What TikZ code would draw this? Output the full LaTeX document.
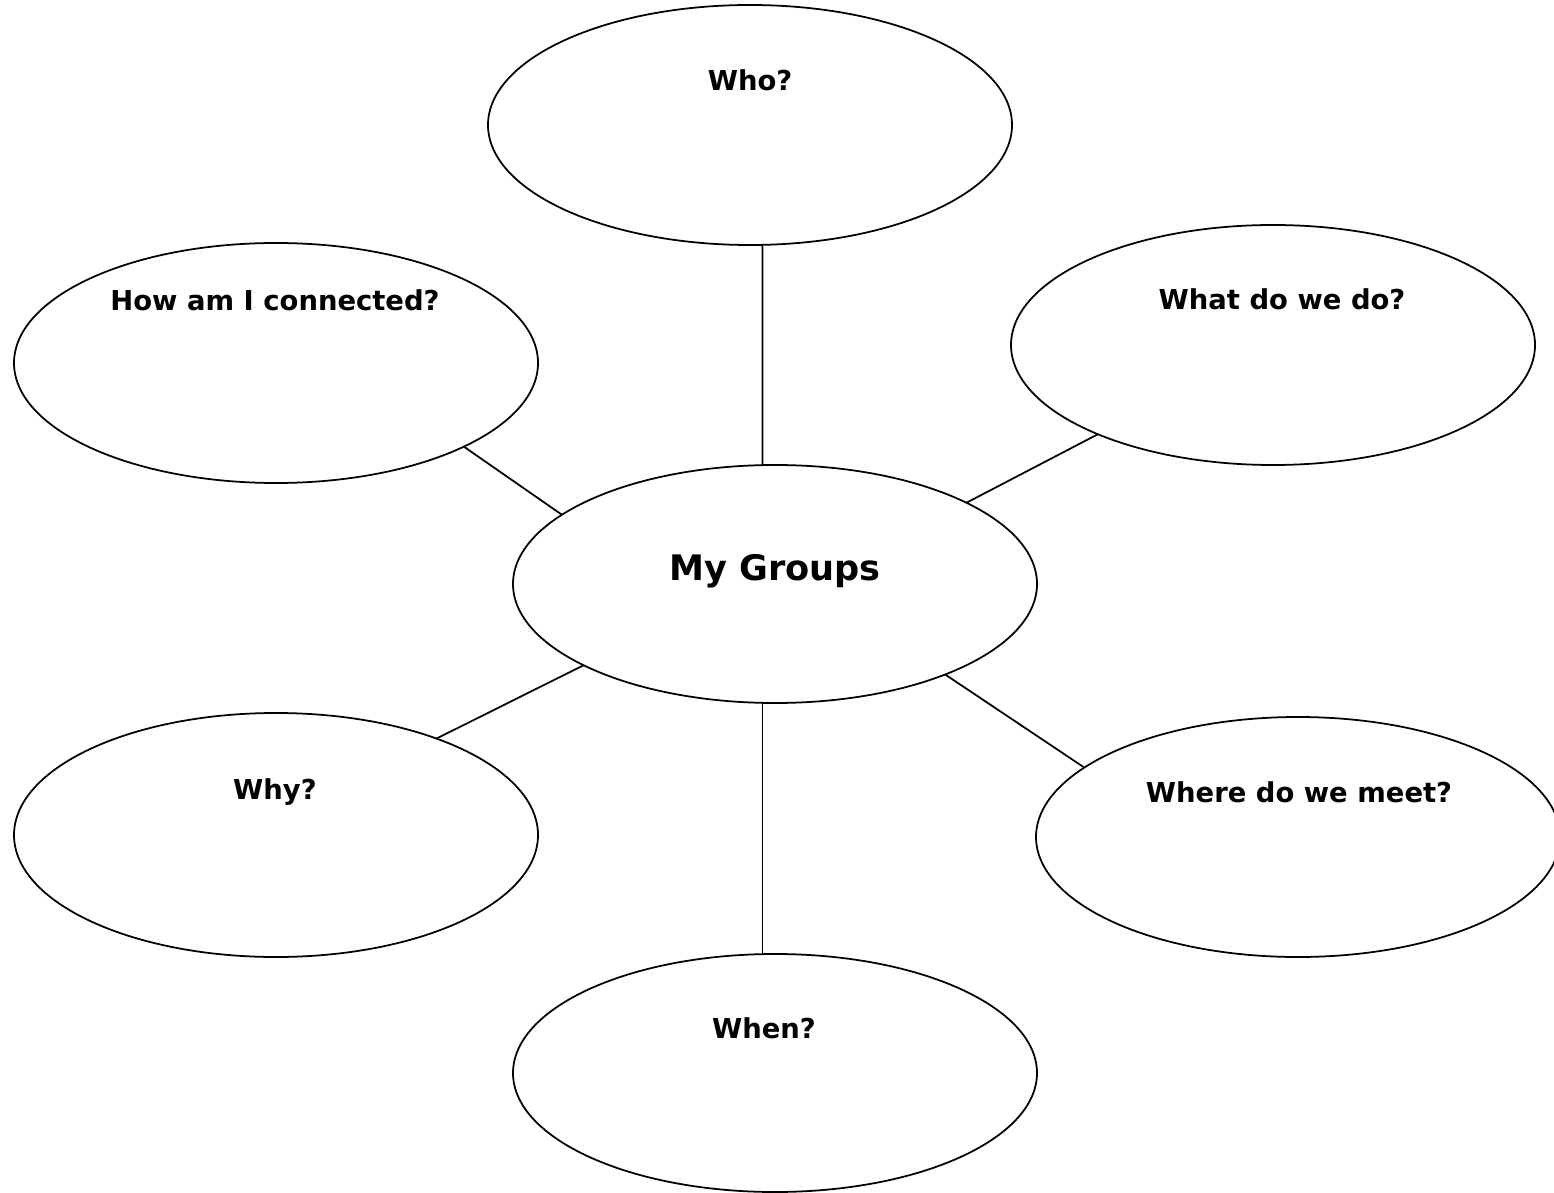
\documentclass[tikz,border=0pt]{standalone}
\usepackage{fontspec}
\setmainfont{DejaVu Sans}
\usetikzlibrary{positioning,shapes.geometric}

\begin{document}
\begin{tikzpicture}[
  bubble/.style={ellipse, draw=black, line width=0.5pt, minimum width=5.24cm, minimum height=2.40cm, inner sep=0pt, outer sep=0pt},
  qtext/.style={font=\bfseries\fontsize{7.8}{9}\selectfont, anchor=base, inner sep=0pt},
  maintext/.style={font=\bfseries\fontsize{10}{12}\selectfont, anchor=base, inner sep=0pt},
  spoke/.style={draw=black, line width=0.5pt}
]
\useasboundingbox (0,0) rectangle (15.54,-11.93);

\node[bubble] (who) at (7.50, -1.25) {};
\node[bubble] (conn) at (2.76, -3.63) {};
\node[bubble] (what) at (12.73, -3.45) {};
\node[bubble, minimum height=2.38cm] (grp) at (7.75, -5.84) {};
\node[bubble, minimum height=2.44cm] (why) at (2.76, -8.35) {};
\node[bubble] (where) at (12.98, -8.37) {};
\node[bubble, minimum height=2.38cm] (when) at (7.75, -10.73) {};

\node[qtext] (whoT) at (7.50, -0.91) {Who?};
\node[qtext] (connT) at (2.75, -3.11) {How am I connected?};
\node[qtext] (whatT) at (12.82, -3.10) {What do we do?};
\node[maintext] (grpT) at (7.75, -5.80) {My Groups};
\node[qtext] (whyT) at (2.75, -7.99) {Why?};
\node[qtext] (whereT) at (12.99, -8.02) {Where do we meet?};
\node[qtext] (whenT) at (7.64, -10.38) {When?};

% spokes from the centre bubble
\coordinate (whenTop) at (grp.264.24 |- when.north);
\draw[spoke] (who.-84) -- (grp.96);
\draw[spoke] (conn.-24.6) -- (grp.162.5);
\draw[spoke] (what.207.1) -- (grp.23.3);
\draw[spoke] (why.31.5) -- (grp.203.8);
\draw[spoke] (where.162.5) -- (grp.-28.4);
\draw[spoke] (grp.264.24) -- (whenTop);

\end{tikzpicture}
\end{document}
